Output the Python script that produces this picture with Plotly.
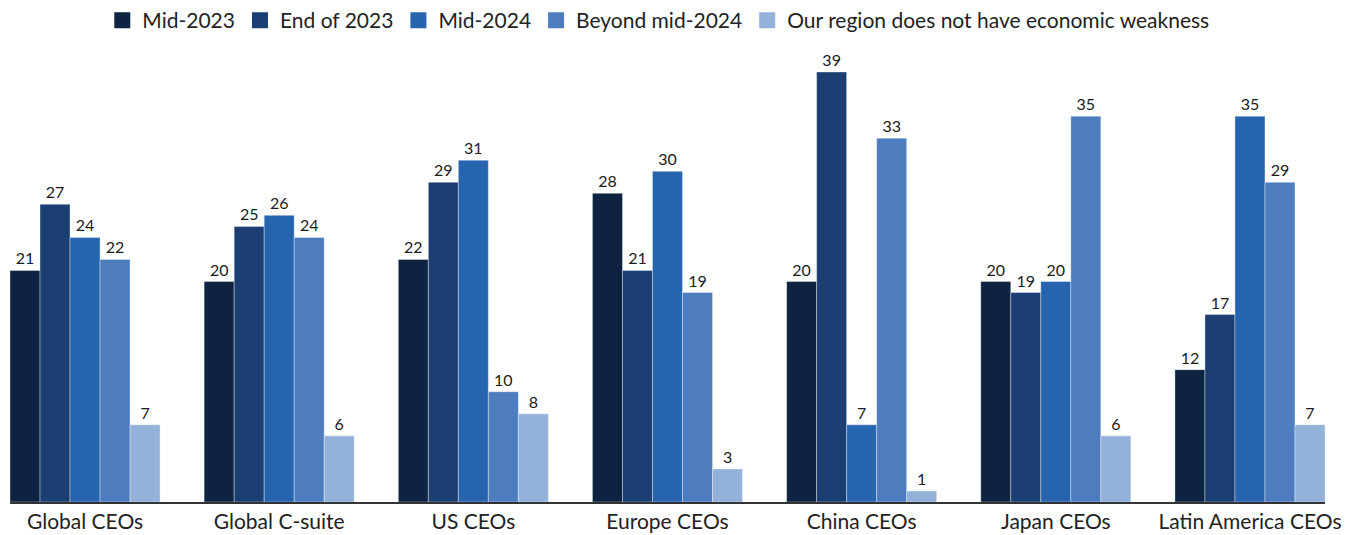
import plotly.graph_objects as go

categories = ["Global CEOs", "Global C-suite", "US CEOs", "Europe CEOs", "China CEOs", "Japan CEOs", "Latin America CEOs"]
series_names = ["Mid-2023", "End of 2023", "Mid-2024", "Beyond mid-2024", "Our region does not have economic weakness"]
mid_2023 = [21, 20, 22, 28, 20, 20, 12]
end_2023 = [27, 25, 29, 21, 39, 19, 17]
mid_2024 = [24, 26, 31, 30, 7, 20, 35]
beyond_mid_2024 = [22, 24, 10, 19, 33, 35, 29]
no_weakness = [7, 6, 8, 3, 1, 6, 7]
colors = ["#0D2341", "#1B3F72", "#2764AE", "#4D7DBF", "#94B1D9"]

all_series = [mid_2023, end_2023, mid_2024, beyond_mid_2024, no_weakness]
font_family = "Lato, 'Open Sans', sans-serif"

fig = go.Figure()
for name, vals, col in zip(series_names, all_series, colors):
    fig.add_trace(go.Bar(
        name=name, x=categories, y=vals, showlegend=False, legendgroup=name,
        marker=dict(color=col, line=dict(color="rgba(255,255,255,0.45)", width=0.8)),
        text=[str(v) for v in vals], textposition="outside",
        textfont=dict(size=16, color="#1a1a1a", family=font_family),
        cliponaxis=False,
    ))
# legend entries with larger square swatches
for name, col in zip(series_names, colors):
    fig.add_trace(go.Scatter(
        name=name, x=[None], y=[None], mode="markers", legendgroup=name,
        marker=dict(symbol="square", size=16, color=col),
    ))

gap = 0.227
fig.update_layout(
    barmode="group", bargap=gap, bargroupgap=0,
    width=1347, height=527,
    margin=dict(l=2, r=30, t=53, b=33, autoexpand=False),
    paper_bgcolor="white", plot_bgcolor="white",
    font=dict(family=font_family, color="#222222"),
    legend=dict(orientation="h", x=0.493, xanchor="center", y=1.138, yanchor="top",
                yref="paper", font=dict(size=21, color="#222222"),
                itemwidth=30, traceorder="normal"),
    xaxis=dict(range=[-0.5 + gap / 2, 6.5 - gap / 2], showline=True, linecolor="#333333",
               linewidth=2, ticks="", tickfont=dict(size=21, color="#222222"), showgrid=False,
               automargin=False),
    yaxis=dict(range=[0, 40], visible=False, showgrid=False, automargin=False),
)
fig.write_html("out.html")
